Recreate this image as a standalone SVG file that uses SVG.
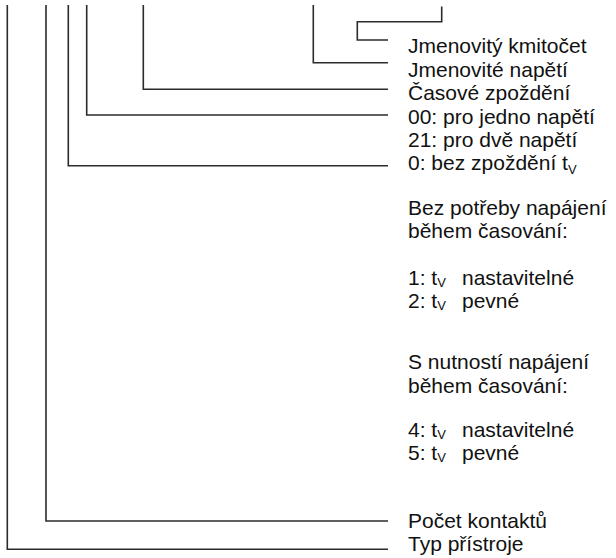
<svg xmlns="http://www.w3.org/2000/svg" width="616" height="558" viewBox="0 0 616 558">
<style>
.c{fill:none;stroke:#2b2b2b;stroke-width:1.6;stroke-linejoin:miter}
.t{font-family:"Liberation Sans",Arial,sans-serif;font-size:21px;fill:#111}
.s{font-size:13px}
</style>
<rect width="616" height="558" fill="#fff"/>
<g id="connectors">
<path class="c" d="M7.3 5V549.3H388"/>
<path class="c" d="M46 5V521H388"/>
<path class="c" d="M68.3 5V165.7H388"/>
<path class="c" d="M86.7 5V115H388"/>
<path class="c" d="M143.3 5V89.3H388"/>
<path class="c" d="M313.3 5V62.7H388"/>
<path class="c" d="M441.7 6.5V21.7H357.3V40H388"/>
</g>
<g id="n-kmitocet"><text class="t" x="408" y="53">Jmenovitý kmitočet</text></g>
<g id="n-napeti"><text class="t" x="408" y="76.5">Jmenovité napětí</text></g>
<g id="n-zpozdeni"><text class="t" x="408" y="100">Časové zpoždění</text></g>
<g id="n-00"><text class="t" x="408" y="123.5">00: pro jedno napětí</text></g>
<g id="n-21"><text class="t" x="408" y="147">21: pro dvě napětí</text></g>
<g id="n-0"><text class="t" x="408" y="170">0: bez zpoždění t<tspan class="s" dy="4">V</tspan></text></g>
<g id="n-bez">
<text class="t" x="408" y="214.5">Bez potřeby napájení</text>
<text class="t" x="408" y="237.5">během časování:</text>
<text class="t" x="408" y="285">1: t<tspan class="s" dy="2">V</tspan><tspan x="462" dy="-2">nastavitelné</tspan></text>
<text class="t" x="408" y="308">2: t<tspan class="s" dy="2">V</tspan><tspan x="462" dy="-2">pevné</tspan></text>
</g>
<g id="n-s">
<text class="t" x="408" y="369">S nutností napájení</text>
<text class="t" x="408" y="392.5">během časování:</text>
<text class="t" x="408" y="437">4: t<tspan class="s" dy="2">V</tspan><tspan x="462" dy="-2">nastavitelné</tspan></text>
<text class="t" x="408" y="460">5: t<tspan class="s" dy="2">V</tspan><tspan x="462" dy="-2">pevné</tspan></text>
</g>
<g id="n-kontakty"><text class="t" x="408" y="528">Počet kontaktů</text></g>
<g id="n-typ"><text class="t" x="408" y="551">Typ přístroje</text></g>
</svg>
